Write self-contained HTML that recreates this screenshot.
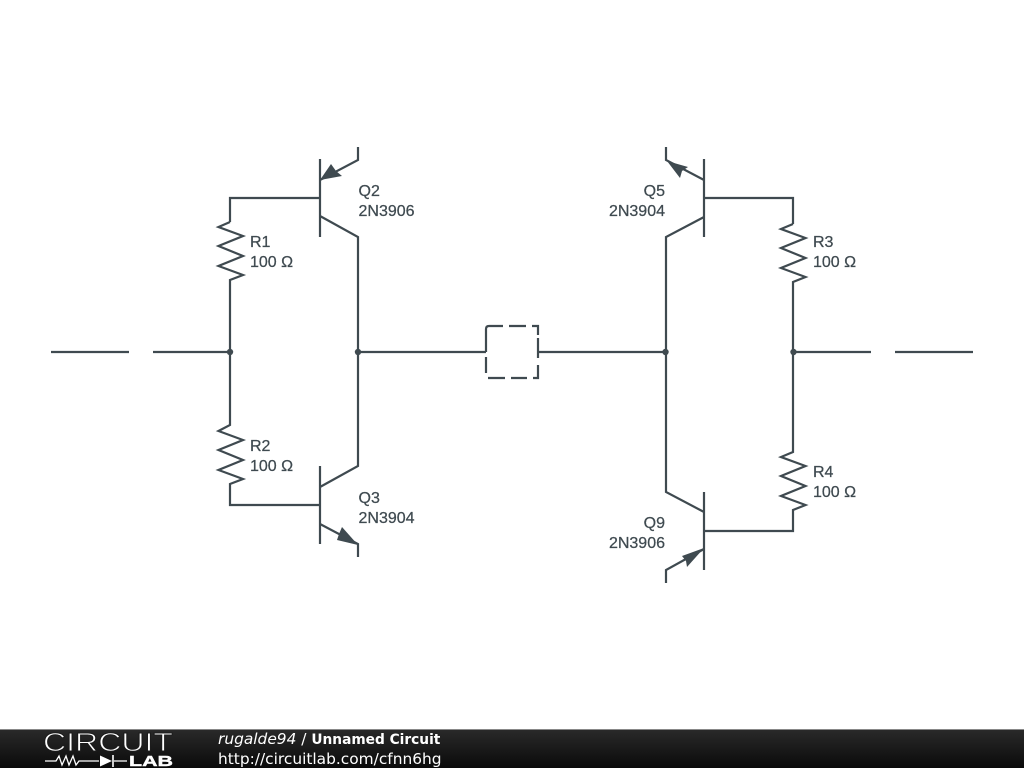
<!DOCTYPE html>
<html><head><meta charset="utf-8"><style>
html,body{margin:0;padding:0;background:#fff;width:1024px;height:768px;overflow:hidden}
svg{display:block}
.l{font:16px "Liberation Sans",sans-serif;fill:#3f4a50;stroke:#3f4a50;stroke-width:.25}
.f{font:15.4px "DejaVu Sans",sans-serif;fill:#fff}
</style></head><body>
<svg width="1024" height="768" viewBox="0 0 1024 768" xmlns="http://www.w3.org/2000/svg">
<defs><linearGradient id="g" x1="0" y1="0" x2="0" y2="1"><stop offset="0" stop-color="#2a2a2a"/><stop offset="1" stop-color="#0a0a0a"/></linearGradient></defs>
<g fill="none" stroke="#3f4a50" stroke-width="2.200">
<path d="M51 352H129M153 352H230M358 352H486M538 352H666M793 352H871M895 352H973"/>
<!-- Q2 -->
<path d="M320 159V237M230 222V198H320M358 147V160L320 180M320 216L358 237V466L320 487M320 466V544"/>
<path d="M230 222L218.500 227L243 236L218.500 246L243 256L218.500 266L243 275L230 280V352V425L218.500 431L243 440L218.500 450L243 460L218.500 470L243 479L230 484V505H320"/>
<!-- Q3 -->
<path d="M320 524L358 544V557"/>
<!-- Q5 -->
<path d="M704 159V237M793 224V198H704M666 147V160L704 180M704 217L666 237V492L704 512M704 492V570"/>
<path d="M793 224L781 229L805.500 238L781 248L805.500 258L781 268L805.500 277L793 282V452L781 457L805.500 466L781 476L805.500 486L781 496L805.500 505L793 510V531H704"/>
<!-- Q9 -->
<path d="M704 549L666 570V583"/>
<!-- box -->
<path d="M486 352V335M486 373V357M486 335V329Q486 326 489 326H503M509 326H526M532 326H538V335M538 338V358M538 365V378H533M527 378H511M505 378H488"/>
</g>
<g fill="#3f4a50">
<path d="M320 180L331 164L336 171L342 176Z"/>
<path d="M358 545L342 527L339 534L337 540Z"/>
<path d="M667 161L688 167L682 171L680 178Z"/>
<path d="M704 548L682 556L686 561L687 567Z"/>
<circle cx="230" cy="352" r="3.200"/><circle cx="358" cy="352" r="3.200"/><circle cx="665.500" cy="352" r="3.200"/><circle cx="793.500" cy="352" r="3.200"/>
</g>
<text class="l" x="250" y="247">R1</text><text class="l" x="250" y="267">100 Ω</text>
<text class="l" x="250" y="451">R2</text><text class="l" x="250" y="471">100 Ω</text>
<text class="l" x="813" y="247">R3</text><text class="l" x="813" y="267">100 Ω</text>
<text class="l" x="813" y="477">R4</text><text class="l" x="813" y="497">100 Ω</text>
<text class="l" x="358.500" y="196">Q2</text><text class="l" x="358.500" y="216">2N3906</text>
<text class="l" x="358.500" y="503">Q3</text><text class="l" x="358.500" y="523">2N3904</text>
<text class="l" x="665" y="196" text-anchor="end">Q5</text><text class="l" x="665" y="216" text-anchor="end">2N3904</text>
<text class="l" x="665" y="528" text-anchor="end">Q9</text><text class="l" x="665" y="548" text-anchor="end">2N3906</text>
<rect x="0" y="729" width="1024" height="39" fill="url(#g)"/>
<rect x="0" y="729" width="1024" height="1" fill="#888"/>
<text x="43" y="751" font-family="Liberation Sans,sans-serif" font-size="26" fill="#fff" stroke="#1c1c1c" stroke-width=".9" textLength="130" lengthAdjust="spacingAndGlyphs">CIRCUIT</text>
<path d="M45 761H56L59 756L62 765L66 756L69 765L73 756L76 765L79 761H99M114 761H127" fill="none" stroke="#fff" stroke-width="1.300"/>
<path d="M100 755.500L112 761L100 766.500Z" fill="#fff"/><path d="M113 755V767" stroke="#fff" stroke-width="1.600"/>
<text x="129" y="766" font-family="Liberation Sans,sans-serif" font-size="15" font-weight="bold" fill="#fff" stroke="#fff" stroke-width=".4" textLength="44" lengthAdjust="spacingAndGlyphs">LAB</text>
<text class="f" x="218" y="744"><tspan font-style="italic">rugalde94</tspan> / <tspan font-weight="bold" font-size="14.500" textLength="129" lengthAdjust="spacingAndGlyphs">Unnamed Circuit</tspan></text>
<text class="f" x="218" y="764">http://circuitlab.com/cfnn6hg</text>
</svg>
</body></html>
